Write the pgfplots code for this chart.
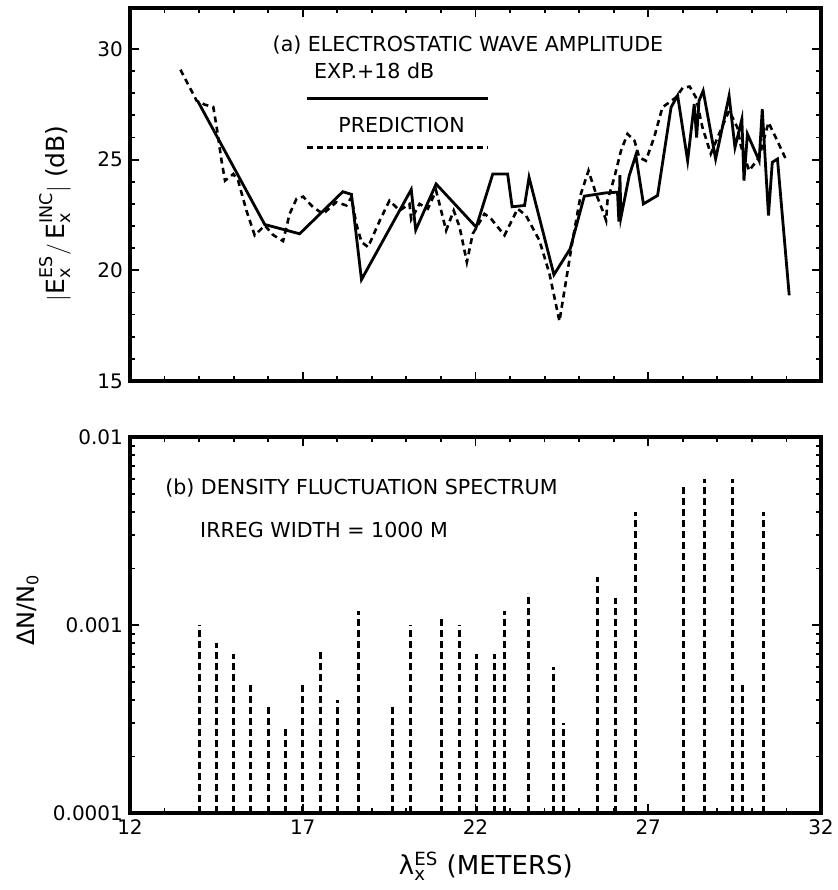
\documentclass[border=0pt]{standalone}
\usepackage{fontspec}
\setmainfont{DejaVu Sans}
\usepackage{amsmath}
\usepackage{pgfplots}
\pgfplotsset{compat=1.18}

\pgfplotsset{
  panel/.style={
    scale only axis, width=345.5pt,
    xmin=12, xmax=32, xtick={12,17,22,27,32}, minor x tick num=4,
    tick align=inside,
    major tick length=4.5pt, minor tick length=2.5pt,
    axis line style={line width=1.6pt},
    every tick/.style={black, line width=0.9pt},
    tick label style={font=\fontsize{10}{12}\selectfont},
    /pgf/number format/assume math mode=true,
  },
}
\tikzset{annot/.style={font=\fontsize{10.3}{12}\selectfont, inner sep=0pt}}

\begin{document}
\begin{tikzpicture}
\useasboundingbox (-65pt,-38.5pt) rectangle (353.5pt,406.5pt);

% (a) wave amplitude
\begin{axis}[panel,
    at={(0pt,216pt)}, anchor=south west, height=186.5pt,
    ymin=15, ymax=31.85, ytick={15,20,25,30}, minor y tick num=4,
    xticklabel=\empty,
    ylabel={$|\text{E}_{\text{x}}^{\text{ES}}/\,\text{E}_{\text{x}}^{\text{INC}}|$ (dB)},
    ylabel style={at={(axis description cs:-0.108,0.45)}, anchor=center,
                  font=\fontsize{12.5}{14}\selectfont},
]
\addplot[black, line width=1.4pt] coordinates {
 (13.97,27.62) (15.90,22.07) (16.91,21.65) (18.16,23.55) (18.41,23.43)
 (18.70,19.58) (20.14,23.65) (20.27,21.82) (20.86,23.90) (22.02,21.95)
 (22.50,24.35) (22.93,24.35) (23.06,22.87) (23.42,22.93) (23.55,24.20)
 (24.27,19.80) (24.74,20.97) (25.15,23.35) (25.78,23.50) (26.11,23.53)
 (26.15,22.20) (26.18,24.30) (26.21,22.40) (26.45,24.28) (26.64,25.20)
 (26.86,23.00) (27.27,23.38) (27.66,27.36) (27.85,27.90) (28.14,24.95)
 (28.33,27.51) (28.40,26.00) (28.47,27.66) (28.59,28.11) (28.95,25.03)
 (29.34,27.88) (29.51,25.55) (29.71,26.83) (29.77,24.05) (29.87,26.16)
 (30.21,24.95) (30.30,27.28) (30.48,22.48) (30.59,24.88) (30.74,25.03)
 (31.08,18.87)
};
\addplot[black, line width=1.3pt, dash pattern=on 3pt off 2.2pt] coordinates {
 (13.46,29.06) (13.93,27.66) (14.17,27.48) (14.41,27.38) (14.51,26.45)
 (14.65,24.95) (14.75,24.05) (14.99,24.35) (15.13,24.05) (15.37,22.70)
 (15.61,21.58) (15.90,22.03) (16.14,21.60) (16.43,21.32) (16.62,22.55)
 (16.82,23.23) (17.01,23.33) (17.30,22.85) (17.59,22.55) (17.97,23.08)
 (18.26,22.93) (18.41,23.30) (18.55,22.10) (18.70,21.28) (18.89,21.05)
 (19.23,22.25) (19.51,23.15) (19.80,22.70) (20.09,23.00) (20.14,22.30)
 (20.38,23.00) (20.62,22.78) (20.86,23.60) (21.15,21.80) (21.37,22.70)
 (21.54,21.95) (21.75,20.37) (21.92,21.65) (22.26,22.55) (22.45,22.33)
 (22.84,21.58) (23.22,22.78) (23.46,22.48) (23.85,21.35) (24.14,19.85)
 (24.43,17.70) (24.81,21.35) (25.05,23.45) (25.27,24.50) (25.49,23.45)
 (25.68,22.70) (25.78,22.25) (25.82,23.15) (26.02,24.20) (26.21,25.40)
 (26.40,26.16) (26.60,25.86) (26.74,25.10) (26.93,24.95) (27.17,26.00)
 (27.41,27.36) (27.80,27.81) (28.00,28.25) (28.20,28.30) (28.38,27.81)
 (28.57,26.45) (28.81,25.26) (29.05,26.16) (29.34,27.21) (29.58,26.45)
 (29.68,25.63) (29.92,24.50) (30.21,25.10) (30.48,26.68) (30.69,26.00)
 (30.98,25.03)
};
\node[annot, anchor=west] at (axis cs:16.12,30.16) {(a) ELECTROSTATIC WAVE AMPLITUDE};
\node[annot] at (axis cs:19.07,29.03) {EXP.+18 dB};
\draw[black, line width=1.3pt] (axis cs:17.12,27.75) -- (axis cs:22.35,27.75);
\node[annot] at (axis cs:19.86,26.55) {PREDICTION};
\draw[black, line width=1.3pt, dash pattern=on 3pt off 2pt] (axis cs:17.12,25.54) -- (axis cs:22.35,25.54);
\end{axis}

% (b) density fluctuation spectrum
\begin{axis}[panel,
    at={(0pt,0pt)}, anchor=south west, height=188pt,
    ymode=log, ymin=1e-4, ymax=1e-2, log origin=infty,
    ytick={1e-4,1e-3,1e-2}, yticklabels={0.0001,0.001,0.01},
    ylabel={ΔN/N\textsubscript{0}},
    ylabel style={at={(axis description cs:-0.1476,0.54)}, anchor=center,
                  font=\fontsize{12}{14}\selectfont},
    xlabel={λ$_{\text{x}}^{\text{ES}}$ (METERS)},
    xlabel style={at={(axis description cs:0.515,-0.085)}, anchor=north,
                  font=\fontsize{13}{15}\selectfont},
]
\addplot[ycomb, black, line width=1.5pt, dash pattern=on 3.3pt off 2.2pt] table {
x      y
14.02  1.00e-3
14.51  8.00e-4
15.01  7.00e-4
15.50  5.00e-4
16.00  3.80e-4
16.50  2.90e-4
17.00  5.00e-4
17.50  7.50e-4
18.00  4.00e-4
18.61  1.19e-3
19.61  3.80e-4
20.11  1.00e-3
21.03  1.10e-3
21.54  1.00e-3
22.04  7.00e-4
22.54  7.00e-4
22.84  1.19e-3
23.54  1.48e-3
24.26  6.00e-4
24.55  3.00e-4
25.53  1.81e-3
26.05  1.39e-3
26.62  3.97e-3
28.02  5.60e-3
28.64  5.96e-3
29.44  6.00e-3
29.74  4.90e-4
30.33  4.00e-3
};
\node[annot, anchor=west] at (axis cs:13.01,5.36e-3) {(b) DENSITY FLUCTUATION SPECTRUM};
\node[annot, anchor=west] at (axis cs:14.02,3.2e-3) {IRREG WIDTH = 1000 M};
\end{axis}
\end{tikzpicture}
\end{document}
